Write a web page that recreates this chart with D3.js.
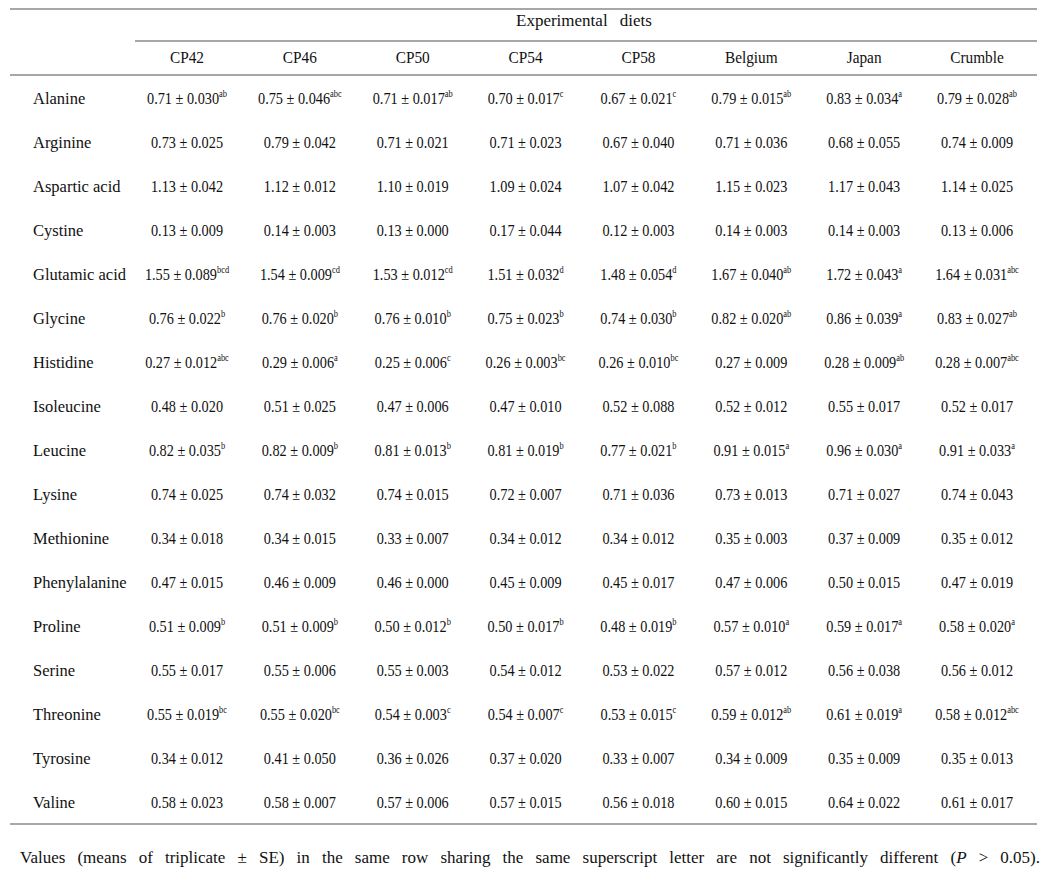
<!DOCTYPE html>
<html>
<head>
<meta charset="utf-8">
<script src="https://cdn.jsdelivr.net/npm/d3@7"></script>
<style>
  html, body { margin: 0; padding: 0; background: #fff; }
  svg text { font-family: "Liberation Serif", "DejaVu Serif", serif; fill: #111; }
</style>
</head>
<body>
<div id="chart"></div>
<script>
// ---------- Data ----------
const diets = ['CP42', 'CP46', 'CP50', 'CP54', 'CP58', 'Belgium', 'Japan', 'Crumble'];
const aminoAcids = ['Alanine', 'Arginine', 'Aspartic acid', 'Cystine', 'Glutamic acid', 'Glycine',
  'Histidine', 'Isoleucine', 'Leucine', 'Lysine', 'Methionine', 'Phenylalanine', 'Proline',
  'Serine', 'Threonine', 'Tyrosine', 'Valine'];

// means, one row per amino acid, one value per diet
const means = [
  [0.71, 0.75, 0.71, 0.70, 0.67, 0.79, 0.83, 0.79],
  [0.73, 0.79, 0.71, 0.71, 0.67, 0.71, 0.68, 0.74],
  [1.13, 1.12, 1.10, 1.09, 1.07, 1.15, 1.17, 1.14],
  [0.13, 0.14, 0.13, 0.17, 0.12, 0.14, 0.14, 0.13],
  [1.55, 1.54, 1.53, 1.51, 1.48, 1.67, 1.72, 1.64],
  [0.76, 0.76, 0.76, 0.75, 0.74, 0.82, 0.86, 0.83],
  [0.27, 0.29, 0.25, 0.26, 0.26, 0.27, 0.28, 0.28],
  [0.48, 0.51, 0.47, 0.47, 0.52, 0.52, 0.55, 0.52],
  [0.82, 0.82, 0.81, 0.81, 0.77, 0.91, 0.96, 0.91],
  [0.74, 0.74, 0.74, 0.72, 0.71, 0.73, 0.71, 0.74],
  [0.34, 0.34, 0.33, 0.34, 0.34, 0.35, 0.37, 0.35],
  [0.47, 0.46, 0.46, 0.45, 0.45, 0.47, 0.50, 0.47],
  [0.51, 0.51, 0.50, 0.50, 0.48, 0.57, 0.59, 0.58],
  [0.55, 0.55, 0.55, 0.54, 0.53, 0.57, 0.56, 0.56],
  [0.55, 0.55, 0.54, 0.54, 0.53, 0.59, 0.61, 0.58],
  [0.34, 0.41, 0.36, 0.37, 0.33, 0.34, 0.35, 0.35],
  [0.58, 0.58, 0.57, 0.57, 0.56, 0.60, 0.64, 0.61]
];

// standard errors
const errors = [
  [0.030, 0.046, 0.017, 0.017, 0.021, 0.015, 0.034, 0.028],
  [0.025, 0.042, 0.021, 0.023, 0.040, 0.036, 0.055, 0.009],
  [0.042, 0.012, 0.019, 0.024, 0.042, 0.023, 0.043, 0.025],
  [0.009, 0.003, 0.000, 0.044, 0.003, 0.003, 0.003, 0.006],
  [0.089, 0.009, 0.012, 0.032, 0.054, 0.040, 0.043, 0.031],
  [0.022, 0.020, 0.010, 0.023, 0.030, 0.020, 0.039, 0.027],
  [0.012, 0.006, 0.006, 0.003, 0.010, 0.009, 0.009, 0.007],
  [0.020, 0.025, 0.006, 0.010, 0.088, 0.012, 0.017, 0.017],
  [0.035, 0.009, 0.013, 0.019, 0.021, 0.015, 0.030, 0.033],
  [0.025, 0.032, 0.015, 0.007, 0.036, 0.013, 0.027, 0.043],
  [0.018, 0.015, 0.007, 0.012, 0.012, 0.003, 0.009, 0.012],
  [0.015, 0.009, 0.000, 0.009, 0.017, 0.006, 0.015, 0.019],
  [0.009, 0.009, 0.012, 0.017, 0.019, 0.010, 0.017, 0.020],
  [0.017, 0.006, 0.003, 0.012, 0.022, 0.012, 0.038, 0.012],
  [0.019, 0.020, 0.003, 0.007, 0.015, 0.012, 0.019, 0.012],
  [0.012, 0.050, 0.026, 0.020, 0.007, 0.009, 0.009, 0.013],
  [0.023, 0.007, 0.006, 0.015, 0.018, 0.015, 0.022, 0.017]
];

// superscript letters (empty = none)
const letters = [
  ['ab', 'abc', 'ab', 'c', 'c', 'ab', 'a', 'ab'],
  ['', '', '', '', '', '', '', ''],
  ['', '', '', '', '', '', '', ''],
  ['', '', '', '', '', '', '', ''],
  ['bcd', 'cd', 'cd', 'd', 'd', 'ab', 'a', 'abc'],
  ['b', 'b', 'b', 'b', 'b', 'ab', 'a', 'ab'],
  ['abc', 'a', 'c', 'bc', 'bc', '', 'ab', 'abc'],
  ['', '', '', '', '', '', '', ''],
  ['b', 'b', 'b', 'b', 'b', 'a', 'a', 'a'],
  ['', '', '', '', '', '', '', ''],
  ['', '', '', '', '', '', '', ''],
  ['', '', '', '', '', '', '', ''],
  ['b', 'b', 'b', 'b', 'b', 'a', 'a', 'a'],
  ['', '', '', '', '', '', '', ''],
  ['bc', 'bc', 'c', 'c', 'c', 'ab', 'a', 'abc'],
  ['', '', '', '', '', '', '', ''],
  ['', '', '', '', '', '', '', '']
];

const groupTitle = 'Experimental diets';
const footnoteParts = [
  'Values (means of triplicate ± SE) in the same row sharing the same superscript letter are not significantly different (',
  'P', ' > 0.05).'
];

// ---------- Layout ----------
const W = 1052, H = 895;
const left = 10, right = 1037;
const ruleColor = '#8a8a8a';

const svg = d3.select('#chart').append('svg')
  .attr('width', W).attr('height', H).attr('viewBox', [0, 0, W, H]);

const x = d3.scalePoint().domain(diets).range([187, 977]);
const y = d3.scalePoint().domain(aminoAcids).range([98, 802]);

// rules
const rule = (x1, x2, yy) => svg.append('line')
  .attr('x1', x1).attr('x2', x2).attr('y1', yy).attr('y2', yy)
  .attr('stroke', ruleColor).attr('stroke-width', 1.4);
rule(left, right, 9);
rule(135, right, 41);
rule(left, right, 75);
rule(left, right, 824);

// group title
svg.append('text')
  .attr('x', 584).attr('y', 26)
  .attr('text-anchor', 'middle')
  .attr('font-size', 17).attr('word-spacing', 8)
  .text(groupTitle);

// column headers
svg.append('g').selectAll('g').data(diets).join('g')
  .attr('transform', d => `translate(${x(d)},63)`)
  .append('text')
  .attr('transform', 'scale(0.9,1)')
  .attr('text-anchor', 'middle')
  .attr('font-size', 17)
  .text(d => d);

// row labels
svg.append('g').selectAll('text').data(aminoAcids).join('text')
  .attr('x', 33).attr('y', d => y(d) + 6)
  .attr('font-size', 16.5)
  .text(d => d);

// cells
const cells = [];
aminoAcids.forEach((aa, i) => {
  diets.forEach((diet, j) => {
    cells.push({ aa, diet, m: means[i][j], se: errors[i][j], sup: letters[i][j] });
  });
});

const cell = svg.append('g').selectAll('g').data(cells).join('g')
  .attr('transform', d => `translate(${x(d.diet)},${y(d.aa) + 6})`)
  .append('text')
  .attr('transform', 'scale(0.84,1)')
  .attr('text-anchor', 'middle')
  .attr('font-size', 17);

cell.append('tspan')
  .text(d => `${d.m.toFixed(2)} ± ${d.se.toFixed(3)}`);
cell.filter(d => d.sup).append('tspan')
  .attr('font-size', 10).attr('dy', -7)
  .text(d => d.sup);

// footnote, justified across the full width
const fn = svg.append('text')
  .attr('x', 20).attr('y', 863)
  .attr('font-size', 17);
fn.append('tspan').text(footnoteParts[0]);
fn.append('tspan').attr('font-style', 'italic').text(footnoteParts[1]);
fn.append('tspan').text(footnoteParts[2]);

const natural = fn.node().getComputedTextLength();
const nGaps = footnoteParts.join('').split(' ').length - 1;
const target = 1040 - 20;
fn.attr('word-spacing', Math.max(0, (target - natural) / nGaps));
</script>
</body>
</html>
